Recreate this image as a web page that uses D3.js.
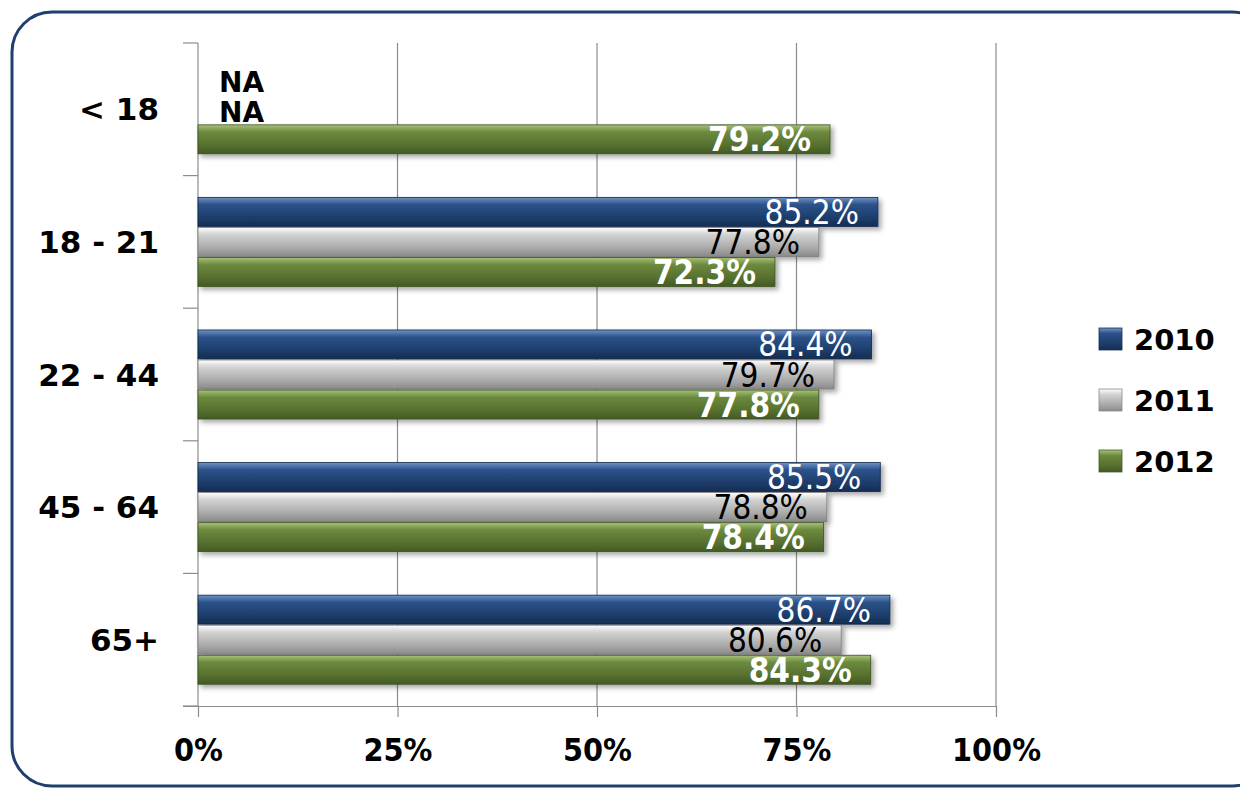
<!DOCTYPE html>
<html>
<head>
<meta charset="utf-8">
<script src="https://cdn.jsdelivr.net/npm/d3@7"></script>
<style>
  body { margin: 0; background: #fff; }
  svg { display: block; }
</style>
</head>
<body>
<svg id="board" width="1240" height="788"></svg>
<script>
// age groups and yearly values (null = NA)
categories = ['< 18', '18 - 21', '22 - 44', '45 - 64', '65+'];
years = ['2010', '2011', '2012'];
values2010 = [null, 85.2, 84.4, 85.5, 86.7];
values2011 = [null, 77.8, 79.7, 78.8, 80.6];
values2012 = [79.2, 72.3, 77.8, 78.4, 84.3];
xTicks = [0, 25, 50, 75, 100];

series = [values2010, values2011, values2012];

board = d3.select('#board');
defs = board.append('defs');

// bevel-ish gradients per series
grads = [
  ['#6f93c4', '#2c528a', '#1d3d6b', '#142d52'],
  ['#ffffff', '#d2d2d2', '#aaaaaa', '#8a8a8a'],
  ['#a9c27a', '#6c8a3e', '#56702f', '#435a24']
];
grads.forEach(function(g, i){
  lg = defs.append('linearGradient').attr('id', 'g' + i)
      .attr('x1', 0).attr('y1', 0).attr('x2', 0).attr('y2', 1);
  lg.append('stop').attr('offset', '0%').attr('stop-color', g[0]);
  lg.append('stop').attr('offset', '25%').attr('stop-color', g[1]);
  lg.append('stop').attr('offset', '70%').attr('stop-color', g[2]);
  lg.append('stop').attr('offset', '100%').attr('stop-color', g[3]);
});
shadow = defs.append('filter').attr('id', 'sh')
    .attr('x', '-5%').attr('y', '-20%').attr('width', '115%').attr('height', '160%');
shadow.append('feDropShadow').attr('dx', 3).attr('dy', 3).attr('stdDeviation', 2.5)
    .attr('flood-color', '#000').attr('flood-opacity', 0.35);

// frame
board.append('rect')
    .attr('x', 12).attr('y', 12).attr('width', 1260).attr('height', 774)
    .attr('rx', 40).attr('ry', 40)
    .attr('fill', 'none').attr('stroke', '#1f3f6e').attr('stroke-width', 3);

plotLeft = 198; plotRight = 996; plotTop = 43; plotBottom = 706;

x = d3.scaleLinear().domain([0, 100]).range([plotLeft, plotRight]);
y = d3.scaleBand().domain(categories).range([plotTop, plotBottom]).paddingInner(0).paddingOuter(0);
yInner = d3.scaleBand().domain(years).range([0, y.bandwidth()]).paddingInner(0.035).paddingOuter(0.725);

// gridlines
board.append('g').selectAll('line').data(xTicks.slice(1)).join('line')
    .attr('x1', d => x(d)).attr('x2', d => x(d))
    .attr('y1', plotTop).attr('y2', plotBottom)
    .attr('stroke', '#8c8c8c').attr('stroke-width', 1.2);

// bottom axis
xAxis = board.append('g').attr('transform', `translate(0,${plotBottom})`)
    .call(d3.axisBottom(x).tickValues(xTicks).tickSize(11).tickFormat(d => d + '%'));
xAxis.select('.domain').attr('stroke', '#8c8c8c').attr('stroke-width', 1.2)
    .attr('d', `M${plotLeft - 15},0.5H${plotRight}`);
xAxis.selectAll('.tick line').attr('stroke', '#8c8c8c').attr('stroke-width', 1.2);
xAxis.selectAll('.tick text')
    .attr('y', 55).attr('dy', 0)
    .attr('font-family', 'DejaVu Sans Condensed, DejaVu Sans')
    .attr('font-weight', 'bold').attr('font-size', 32).attr('fill', '#000');

// left axis
yAxis = board.append('g').attr('transform', `translate(${plotLeft},0)`);
yAxis.append('line').attr('x1', 0).attr('x2', 0).attr('y1', plotTop).attr('y2', plotBottom)
    .attr('stroke', '#8c8c8c').attr('stroke-width', 1.2);
yAxis.selectAll('line.tk').data(categories.map(c => y(c)).concat([plotBottom])).join('line')
    .attr('class', 'tk')
    .attr('x1', -15).attr('x2', 0).attr('y1', d => d).attr('y2', d => d)
    .attr('stroke', '#8c8c8c').attr('stroke-width', 1.2);
board.append('g').selectAll('text').data(categories).join('text')
    .attr('x', 159).attr('y', d => y(d) + y.bandwidth() / 2 + 11)
    .attr('text-anchor', 'end')
    .attr('font-family', 'DejaVu Sans').attr('font-weight', 'bold').attr('font-size', 31)
    .text(d => d);

labelColor = ['#ffffff', '#000000', '#ffffff'];
labelWeight = ['normal', 'normal', 'bold'];

series.forEach(function(vals, si){
  g = board.append('g');
  rows = categories.map((c, ci) => ({c: c, v: vals[ci]}));
  g.selectAll('rect').data(rows.filter(d => d.v !== null)).join('rect')
      .attr('x', x(0))
      .attr('y', d => y(d.c) + yInner(years[si]))
      .attr('width', d => x(d.v) - x(0))
      .attr('height', yInner.bandwidth())
      .attr('fill', `url(#g${si})`)
      .attr('stroke', d3.color(grads[si][3]).darker(0.3))
      .attr('stroke-width', 0.8)
      .attr('filter', 'url(#sh)');
  g.selectAll('text').data(rows).join('text')
      .attr('x', d => d.v === null ? x(0) + 21 : x(d.v) - 19)
      .attr('y', d => y(d.c) + yInner(years[si]) + yInner.bandwidth() / 2 + (d.v === null ? 13 : 12))
      .attr('text-anchor', d => d.v === null ? 'start' : 'end')
      .attr('font-family', d => d.v === null ? 'DejaVu Sans' : 'DejaVu Sans Condensed, DejaVu Sans')
      .attr('font-size', d => d.v === null ? 28 : 33)
      .attr('font-weight', d => d.v === null ? 'bold' : labelWeight[si])
      .attr('fill', d => d.v === null ? '#000' : labelColor[si])
      .text(d => d.v === null ? 'NA' : d.v.toFixed(1) + '%');
});

// legend
legend = board.append('g');
years.forEach(function(yr, i){
  ly = 339 + i * 61;
  legend.append('rect')
      .attr('x', 1099).attr('y', ly - 11).attr('width', 23).attr('height', 22)
      .attr('fill', `url(#g${i})`)
      .attr('stroke', grads[i][3]).attr('stroke-width', 0.8);
  legend.append('text')
      .attr('x', 1134).attr('y', ly + 11)
      .attr('font-family', 'DejaVu Sans').attr('font-weight', 'bold').attr('font-size', 29)
      .text(yr);
});
</script>
</body>
</html>
